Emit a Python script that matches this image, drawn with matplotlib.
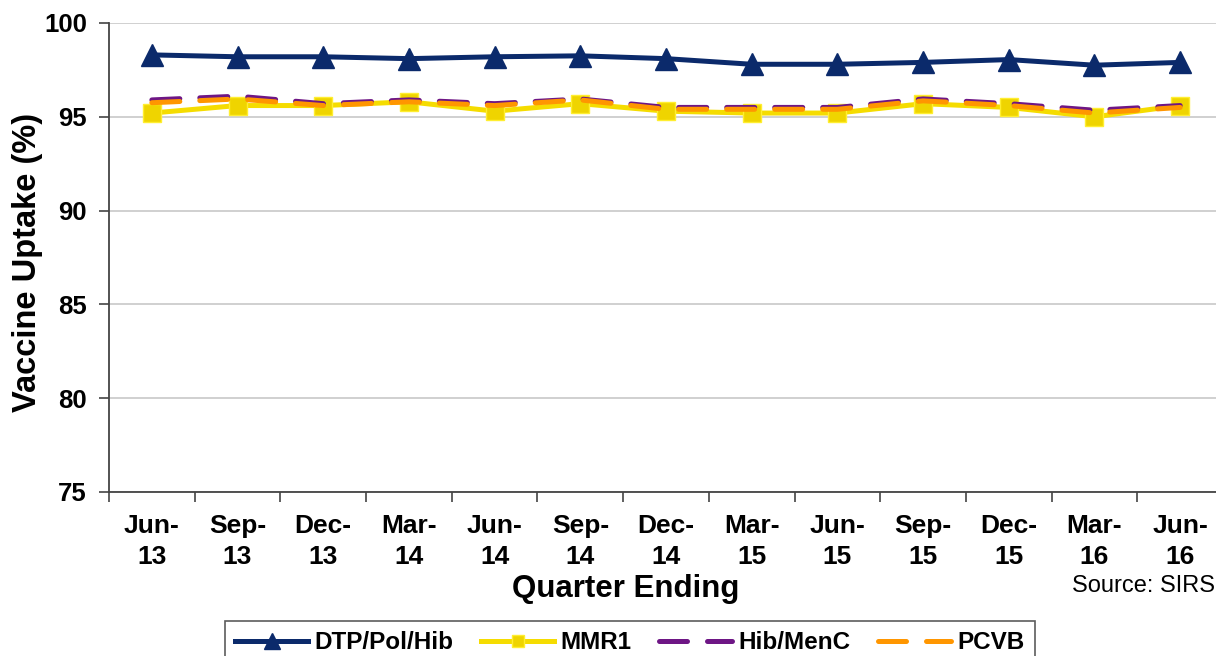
import numpy as np
import matplotlib
matplotlib.use("Agg")
import matplotlib.pyplot as plt

plt.rcParams['font.family'] = ['Liberation Sans', 'DejaVu Sans']

# quarters shown on the x axis
quarters = ["Jun-\n13", "Sep-\n13", "Dec-\n13", "Mar-\n14", "Jun-\n14", "Sep-\n14", "Dec-\n14",
            "Mar-\n15", "Jun-\n15", "Sep-\n15", "Dec-\n15", "Mar-\n16", "Jun-\n16"]

# uptake (%)
dtp_pol_hib = [98.3, 98.2, 98.2, 98.1, 98.2, 98.25, 98.1, 97.8, 97.8, 97.9, 98.05, 97.75, 97.9]
mmr1 = [95.2, 95.6, 95.6, 95.8, 95.3, 95.7, 95.3, 95.2, 95.2, 95.7, 95.5, 95.0, 95.6]
hib_menc = [95.9, 96.1, 95.7, 95.9, 95.7, 95.95, 95.5, 95.5, 95.5, 95.95, 95.7, 95.35, 95.6]
pcvb = [95.75, 95.95, 95.6, 95.8, 95.6, 95.9, 95.4, 95.4, 95.4, 95.85, 95.6, 95.2, 95.5]

yticks = [75, 80, 85, 90, 95, 100]

fig = plt.figure(figsize=(12.16, 6.56), dpi=100)
ax = fig.add_axes([109 / 1216, 1 - 492 / 656, 1114 / 1216, (492 - 23) / 656])

x = np.arange(len(quarters))
lw = 3.6

ax.plot(x, dtp_pol_hib, color='#0B2A6B', lw=lw, marker='^', markersize=16,
        markeredgecolor='#0B2A6B', label='DTP/Pol/Hib', zorder=3)
ax.plot(x, mmr1, color='#F5DC00', lw=lw, marker='s', markersize=13,
        markerfacecolor='#EFD400', markeredgecolor='#FFEE30', label='MMR1', zorder=3)
ax.plot(x, hib_menc, color='#6E1685', lw=lw, dashes=(5.6, 4), dash_capstyle='round',
        label='Hib/MenC', zorder=4)
ax.plot(x, pcvb, color='#FF9600', lw=lw, dashes=(5.6, 4), dash_capstyle='round',
        label='PCVB', zorder=4)

ax.set_xlim(-0.5, len(quarters) - 0.5)
ax.set_ylim(75, 100)
ax.set_yticks(yticks)
ax.set_yticklabels([str(v) for v in yticks], fontsize=18.5, fontweight='bold')
ax.set_xticks(x)
ax.set_xticklabels(quarters, fontsize=19, fontweight='bold', linespacing=1.35)
ax.set_xticks(np.arange(-0.5, len(quarters)), minor=True)
ax.tick_params(axis='x', which='major', length=0, pad=16)
ax.tick_params(axis='x', which='minor', length=7, width=1.2, color='#444444')
ax.tick_params(axis='y', length=7, width=1.2, color='#444444', pad=9)

ax.yaxis.grid(True, color='#C8C8C8', lw=1.2)
ax.set_axisbelow(True)
for side in ['top', 'right']:
    ax.spines[side].set_visible(False)
for side in ['left', 'bottom']:
    ax.spines[side].set_color('#444444')
    ax.spines[side].set_linewidth(1.3)

fig.text(28 / 1216, 1 - 262 / 656, 'Vaccine Uptake (%)', fontsize=23.5, fontweight='bold',
         rotation=90, ha='center', va='center')
fig.text(626 / 1216, 1 - 589 / 656, 'Quarter Ending', fontsize=22.5, fontweight='bold',
         ha='center', va='center')
fig.text(1215 / 1216, 1 - 586 / 656, 'Source: SIRS', fontsize=17, ha='right', va='center')

leg = fig.legend(loc='upper left', bbox_to_anchor=(225 / 1216, 1 - 621 / 656), ncol=4,
                 fancybox=False, edgecolor='#333333', fontsize=17.5, handlelength=3.0,
                 columnspacing=1.15, borderpad=0.42, handletextpad=0.25, borderaxespad=0,
                 markerscale=0.7)
for t in leg.get_texts():
    t.set_fontweight('bold')
leg.get_frame().set_linewidth(1.2)

fig.savefig('out.png', dpi=100)
